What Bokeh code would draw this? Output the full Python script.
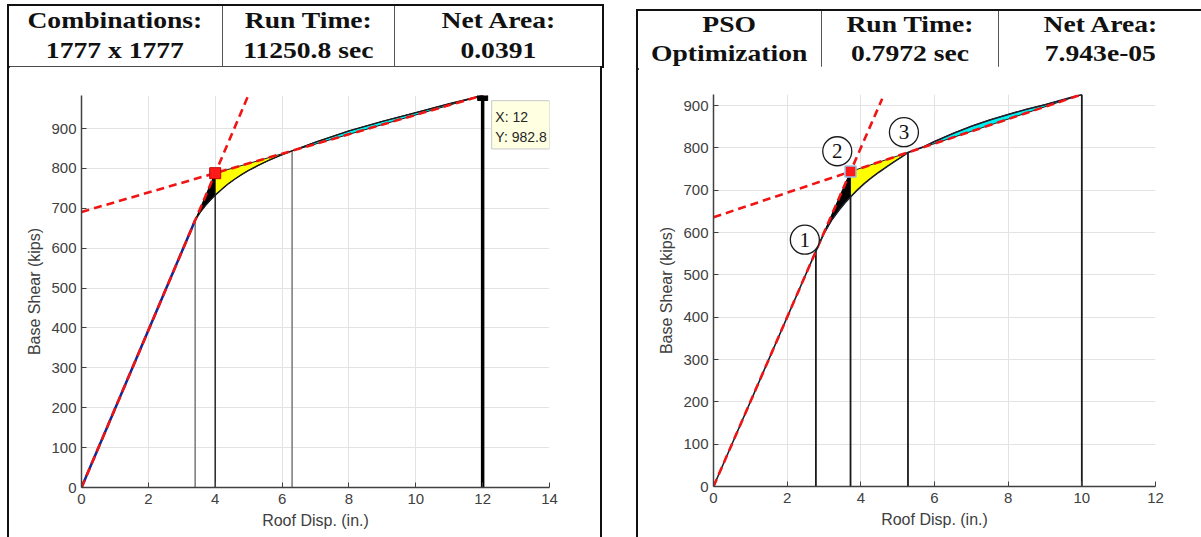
import numpy as np
from bokeh.plotting import figure
from bokeh.models import Div, Range1d, FixedTicker
from bokeh.layouts import row, column
from bokeh.embed import file_html
from bokeh.resources import INLINE
from bokeh.core.properties import value

# ---------------- data: left panel (exhaustive combinations) ----------------
L_curve_x = [0, 3.4, 3.55, 3.7, 3.85, 4.0, 4.2, 4.4, 4.6, 4.8, 5.0, 5.3, 5.6, 5.9, 6.3,
             7.0, 8.0, 9.0, 10.0, 11.0, 12.0]
L_curve_y = [0, 670, 690, 706, 720, 733, 748, 762, 774, 785, 795, 808, 820, 831, 844,
             866, 894, 918, 940, 962, 982.8]
L_seg_x = [3.4, 4.0, 6.3, 12.0]
L_yield = [4.0, 788]
L_elastic_x = [0, 4.98]
L_elastic_y = [0, 981]
L_post_x = [0, 12]
L_post_y = [691, 982.8]
L_xticks = [0, 2, 4, 6, 8, 10, 12, 14]
L_yticks = [0, 100, 200, 300, 400, 500, 600, 700, 800, 900]
L_header = [["Combinations:", "1777 x 1777"], ["Run Time:", "11250.8 sec"], ["Net Area:", "0.0391"]]
L_tip = [12, 982.8]

# ---------------- data: right panel (PSO) ----------------
R_curve_x = [0, 2.78, 3.0, 3.2, 3.4, 3.56, 3.72, 3.9, 4.1, 4.3, 4.5, 4.7, 4.9, 5.1, 5.28,
             5.5, 5.72, 6.0, 6.5, 7.0, 7.5, 8.0, 8.5, 9.0, 9.5, 10.0]
R_curve_y = [0, 556, 598, 628, 652, 669, 684, 700, 716, 730, 743, 755, 767, 778, 789,
             796, 803, 815, 834, 851, 866, 879, 891, 902, 914, 926]
R_seg_x = [2.78, 3.72, 5.28, 10.0]
R_yield = [3.72, 744]
R_elastic_x = [0, 4.58]
R_elastic_y = [0, 916]
R_post_x = [0, 10]
R_post_y = [636, 926]
R_xticks = [0, 2, 4, 6, 8, 10, 12]
R_yticks = [0, 100, 200, 300, 400, 500, 600, 700, 800, 900]
R_header = [["PSO", "Optimization"], ["Run Time:", "0.7972 sec"], ["Net Area:", "7.943e-05"]]
R_label_text = ["1", "2", "3"]
R_label_x = [2.48, 3.36, 5.17]
R_label_y = [583, 792, 837]

RED = "#f01414"
AXC = "#404040"


def style_axes(p, xticks, yticks):
    p.outline_line_color = None
    p.background_fill_color = "white"
    p.border_fill_color = "white"
    p.xaxis.ticker = FixedTicker(ticks=xticks)
    p.yaxis.ticker = FixedTicker(ticks=yticks)
    p.xgrid.ticker = FixedTicker(ticks=xticks)
    p.ygrid.ticker = FixedTicker(ticks=yticks)
    p.grid.grid_line_color = "#e3e3e3"
    p.grid.grid_line_width = 1
    for ax in (p.xaxis[0], p.yaxis[0]):
        ax.axis_line_color = AXC
        ax.axis_line_width = 1.5
        ax.major_tick_line_color = AXC
        ax.major_tick_in = 5
        ax.major_tick_out = 0
        ax.minor_tick_line_color = None
        ax.major_label_text_font = "Liberation Sans"
        ax.major_label_text_font_size = "15px"
        ax.major_label_text_color = AXC
        ax.axis_label_text_font = "Liberation Sans"
        ax.axis_label_text_font_style = "normal"
        ax.axis_label_text_font_size = "16px"
        ax.axis_label_text_color = AXC
    p.xaxis.major_label_standoff = 6
    p.xaxis.axis_label_standoff = 5
    p.yaxis.major_label_standoff = 5
    p.yaxis.axis_label_standoff = 5
    p.xaxis.axis_label = "Roof Disp. (in.)"
    p.yaxis.axis_label = "Base Shear (kips)"


def add_regions(p, cx, cy, seg_x, yld):
    cx = np.array(cx, dtype=float)
    cy = np.array(cy, dtype=float)
    a, b, c, d = seg_x
    # black: elastic line above curve between first two breakpoints
    m = (cx >= a) & (cx <= b)
    p.patch(list(cx[m]) + [yld[0]], list(cy[m]) + [yld[1]],
            fill_color="black", line_color="black", line_width=1)
    # yellow: post-yield line above curve
    m = (cx >= b) & (cx <= c)
    p.patch([yld[0]] + list(cx[m]), [yld[1]] + list(cy[m]),
            fill_color="#ffff00", line_color="#1a1a1a", line_width=1)
    # cyan: curve above post-yield line
    m = (cx >= c) & (cx <= d)
    p.patch(list(cx[m]), list(cy[m]),
            fill_color="#00f0f0", line_color="#1a1a1a", line_width=1)


def vlines(p, seg_x, cx, cy, colors, widths):
    tops = np.interp(seg_x, cx, cy)
    p.segment(x0=seg_x, y0=[0] * len(seg_x), x1=seg_x, y1=list(tops),
              line_color=colors, line_width=widths)


# ---------------- left figure ----------------
pL = figure(width=591, height=471, x_range=Range1d(0, 14), y_range=Range1d(0, 982.8),
            output_backend="svg", toolbar_location=None,
            min_border_left=72, min_border_right=51, min_border_top=29, min_border_bottom=50)
style_axes(pL, L_xticks, L_yticks)
add_regions(pL, L_curve_x, L_curve_y, L_seg_x, L_yield)
vlines(pL, L_seg_x, L_curve_x, L_curve_y,
       ["#808080", "#303030", "#808080", "#000000"], [1.6, 1.6, 1.6, 3.5])
pL.line(L_curve_x, L_curve_y, line_color="#1a1a1a", line_width=1.4)
pL.line(L_curve_x[:2], L_curve_y[:2], line_color="#1c2590", line_width=2.5)
pL.line(L_elastic_x, L_elastic_y, line_color=RED, line_width=2.6, line_dash="8 5")
pL.line(L_post_x, L_post_y, line_color=RED, line_width=2.6, line_dash="8 5")
pL.scatter([L_yield[0]], [L_yield[1]], marker="square", size=11,
           fill_color="#ff1a1a", line_color="#c00000", line_width=1)
pL.scatter([L_tip[0]], [L_tip[1]], marker="square", size=10,
           fill_color="black", line_color="black")
# data tip
pL.quad(left=[L_tip[0] + 0.27], right=[14.0], top=[L_tip[1] - 13], bottom=[L_tip[1] - 134],
        fill_color="#ffffe1", line_color="#c8c8c8", line_width=1)
pL.text(x=[L_tip[0] + 0.38, L_tip[0] + 0.38], y=[L_tip[1] - 53, L_tip[1] - 104],
        text=[f"X: {L_tip[0]:g}", f"Y: {L_tip[1]:g}"],
        text_font=value("Liberation Sans"), text_font_size="14px",
        text_baseline="middle", text_align="left", text_color="#262626")

# ---------------- right figure ----------------
pR = figure(width=563, height=471, x_range=Range1d(0, 12), y_range=Range1d(0, 926),
            output_backend="svg", toolbar_location=None,
            min_border_left=75, min_border_right=46, min_border_top=28, min_border_bottom=51)
style_axes(pR, R_xticks, R_yticks)
add_regions(pR, R_curve_x, R_curve_y, R_seg_x, R_yield)
vlines(pR, R_seg_x, R_curve_x, R_curve_y,
       ["#1a1a1a"] * 4, [1.8, 1.8, 1.8, 1.8])
pR.line(R_curve_x, R_curve_y, line_color="#1e1e2e", line_width=1.6)
pR.line(R_elastic_x, R_elastic_y, line_color=RED, line_width=2.6, line_dash="8 5")
pR.line(R_post_x, R_post_y, line_color=RED, line_width=2.6, line_dash="8 5")
pR.scatter([R_yield[0]], [R_yield[1]], marker="square", size=11,
           fill_color="#ff1a1a", line_color="#9cc2e6", line_width=1.5)
pR.scatter(R_label_x, R_label_y, marker="circle", size=29,
           fill_color="white", line_color="#1a1a1a", line_width=1.3)
pR.text(x=R_label_x, y=R_label_y, text=R_label_text,
        text_font=value("Liberation Serif"), text_font_size="21px",
        text_align="center", text_baseline="middle", text_color="#111111")


# ---------------- header tables ----------------
def header_html(cells, widths, total_w, h, lh, right_border):
    span = ("display:inline-block;transform:scaleX(1.2);white-space:nowrap;")
    tds = []
    for i, (c, w) in enumerate(zip(cells, widths)):
        br = "2px solid #111" if (i == len(cells) - 1 and right_border) else (
            "none" if i == len(cells) - 1 else "1.5px solid #555")
        tds.append(
            f'<td style="width:{w}px;border-top:2px solid #111;border-bottom:2px solid #111;'
            f'border-left:{"2px solid #111" if i == 0 else "1.5px solid #555"};border-right:{br};'
            f'padding:0;text-align:center;vertical-align:middle;">'
            f'<span style="{span}">{c[0]}<br>{c[1]}</span></td>')
    return (f'<table style="border-collapse:collapse;table-layout:fixed;width:{total_w}px;'
            f'height:{h}px;font-family:\'Liberation Serif\',serif;font-weight:bold;'
            f'font-size:23px;line-height:{lh}px;color:#111;margin:0;">'
            f'<tr>{"".join(tds)}</tr></table>')


divL = Div(text=header_html(L_header, [214, 172, 209], 595, 62, 30, True),
           width=595, height=62, margin=(4, 0, 0, 0))
divR = Div(text=header_html(R_header, [184, 177, 204], 565, 57, 28.5, False),
           width=565, height=57, margin=(9, 0, 0, 0))


def vbar_div(h):
    return Div(text="", width=2, height=h, styles={"background-color": "#111"}, margin=0)


left_col = column(divL, row(vbar_div(471), pL, vbar_div(471)), margin=(0, 0, 0, 7))
right_col = column(divR, row(vbar_div(471), pR), margin=(0, 0, 0, 34))
root = row(left_col, right_col)

open("out.html", "w").write(file_html(root, INLINE))
